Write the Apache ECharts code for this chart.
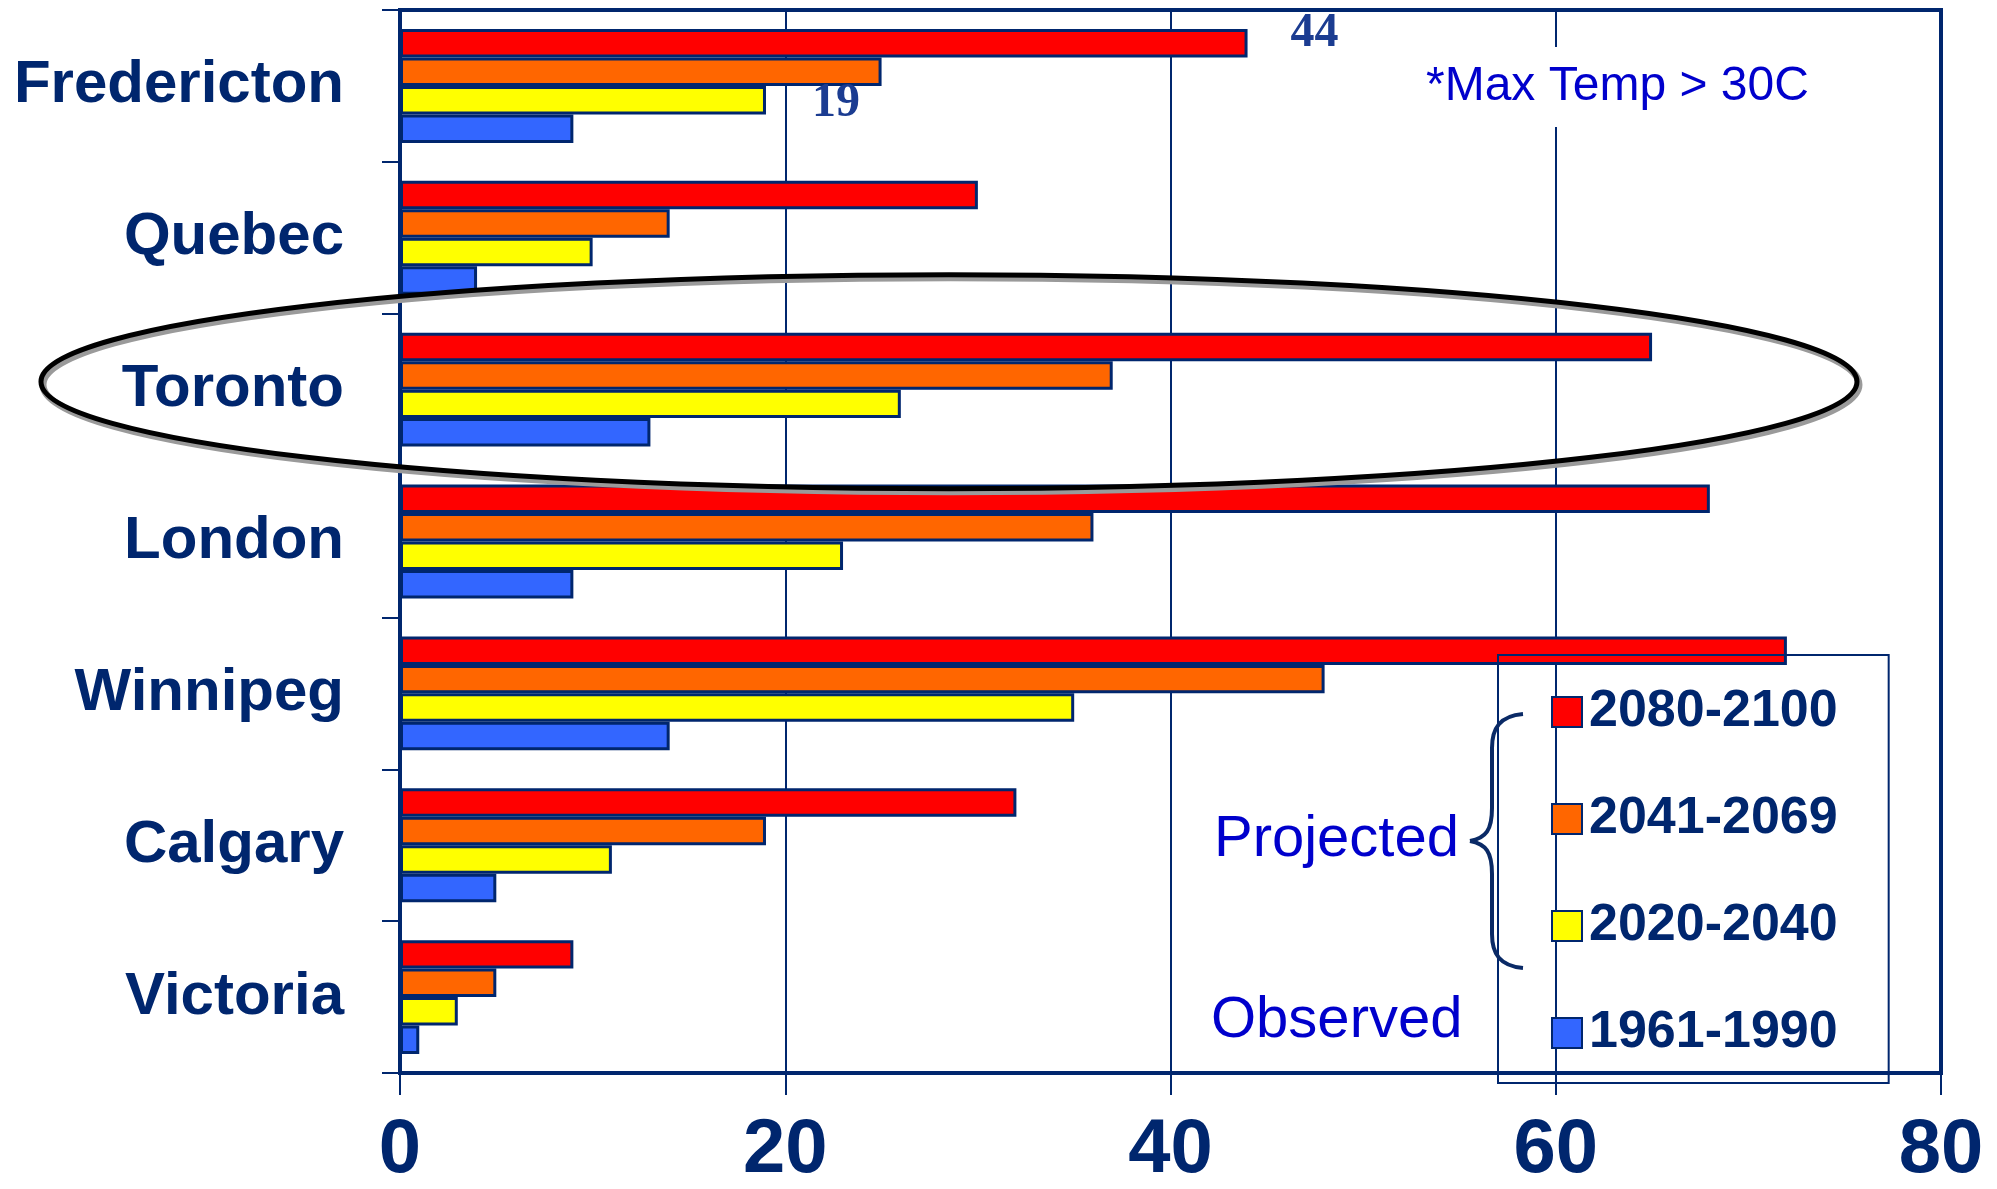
<!DOCTYPE html>
<html>
<head>
<meta charset="utf-8">
<script src="https://cdn.jsdelivr.net/npm/echarts@6/dist/echarts.min.js"></script>
<style>
html,body{margin:0;padding:0;background:#fff;}
#c{width:1997px;height:1189px;}
</style>
</head>
<body>
<div id="c"></div>
<script>
const cities = ['Fredericton','Quebec','Toronto','London','Winnipeg','Calgary','Victoria'];
const periods = ['2080-2100','2041-2069','2020-2040','1961-1990'];
const v2080 = [44, 30, 65, 68, 72, 32, 9];
const v2041 = [25, 14, 37, 36, 48, 19, 5];
const v2020 = [19, 10, 26, 23, 35, 11, 3];
const v1961 = [9, 4, 13, 9, 14, 5, 1];
const xTicks = [0, 20, 40, 60, 80];
const colors = ['#FF0000','#FF6600','#FFFF00','#3366FF'];

const NAVY = '#00266E';
const chart = echarts.init(document.getElementById('c'));

function mk(name, vals, color, labelIdx) {
  return {
    name: name, type: 'bar', data: vals.map((v,i)=>{
      const d = {value: v};
      if (labelIdx && labelIdx.idx === i) {
        d.label = {show: true, position: 'right', distance: labelIdx.dist, offset: labelIdx.off,
          fontFamily: 'Liberation Serif, serif', fontWeight: 'bold', fontSize: 48, color: '#1B3C91'};
      }
      return d;
    }),
    itemStyle: {color: color, borderColor: NAVY, borderWidth: 3},
    barGap: '0%', barCategoryGap: '25%',
    emphasis: {disabled: true}
  };
}

const series = [
  mk(periods[0], v2080, colors[0], {idx: 0, dist: 43, off: [0, -10]}),
  mk(periods[1], v2041, colors[1]),
  mk(periods[2], v2020, colors[2], {idx: 0, dist: 46, off: [0, 3]}),
  mk(periods[3], v1961, colors[3])
];

chart.setOption({
  animation: false,
  grid: {left: 400, right: 56, top: 10, bottom: 116, show: true, borderColor: NAVY, borderWidth: 4, containLabel: false},
  xAxis: {
    type: 'value', min: xTicks[0], max: xTicks[xTicks.length-1], interval: 20,
    axisLine: {show: true, lineStyle: {color: NAVY, width: 4}},
    axisTick: {show: true, length: 22, lineStyle: {color: NAVY, width: 2}},
    splitLine: {show: true, lineStyle: {color: NAVY, width: 2}},
    axisLabel: {color: NAVY, fontFamily: 'Liberation Sans, Arial, sans-serif', fontWeight: 'bold', fontSize: 76, margin: 40}
  },
  yAxis: {
    type: 'category', data: cities, inverse: true,
    axisLine: {show: true, lineStyle: {color: NAVY, width: 2}},
    axisTick: {show: true, length: 18, lineStyle: {color: NAVY, width: 2}},
    axisLabel: {color: NAVY, fontFamily: 'Liberation Sans, Arial, sans-serif', fontWeight: 'bold', fontSize: 60, margin: 56}
  },
  legend: {
    orient: 'vertical', left: 1498, top: 655,
    data: periods,
    itemWidth: 30, itemHeight: 30, itemGap: 51,
    padding: [29, 51, 22, 53],
    borderColor: NAVY, borderWidth: 2,
    icon: 'rect',
    itemStyle: {borderColor: NAVY, borderWidth: 2},
    textStyle: {color: NAVY, fontFamily: 'Liberation Sans, Arial, sans-serif', fontWeight: 'bold', fontSize: 52, lineHeight: 56, padding: [0,0,0,2]},
    selectedMode: false
  },
  series: series
});

// annotations
const ctr = chart.convertToPixel({xAxisIndex: 0, yAxisIndex: 0}, [28.5, 'Toronto']);
const braceSty = {fill: 'none', stroke: '#0A2A66', lineWidth: 4};
chart.setOption({
  graphic: [
    {type: 'text', x: 1422, y: 87, z: 5,
     style: {text: '*Max Temp > 30C', fill: '#0000CC', font: '48px "Liberation Sans", Arial, sans-serif', verticalAlign: 'middle', backgroundColor: '#fff', padding: [16, 4]}},
    {type: 'ellipse', shape: {cx: ctr[0] + 2, cy: ctr[1] - 5, rx: 908, ry: 107}, z: 20,
     style: {fill: 'none', stroke: '#9a9a9a', lineWidth: 7}},
    {type: 'ellipse', shape: {cx: ctr[0], cy: ctr[1] - 8, rx: 908, ry: 107}, z: 21,
     style: {fill: 'none', stroke: '#000', lineWidth: 5}},
    {type: 'text', x: 1459, y: 840, z: 5,
     style: {text: 'Projected', fill: '#0000CC', font: '58px "Liberation Sans", Arial, sans-serif', align: 'right', verticalAlign: 'middle'}},
    {type: 'text', x: 1211, y: 1021, z: 5,
     style: {text: 'Observed', fill: '#0000CC', font: '58px "Liberation Sans", Arial, sans-serif', align: 'left', verticalAlign: 'middle'}},
    {type: 'bezierCurve', z: 5, shape: {x1: 1523, y1: 714, x2: 1492, y2: 748, cpx1: 1500, cpy1: 716, cpx2: 1492, cpy2: 728}, style: braceSty},
    {type: 'line', z: 5, shape: {x1: 1492, y1: 748, x2: 1492, y2: 808}, style: braceSty},
    {type: 'bezierCurve', z: 5, shape: {x1: 1492, y1: 808, x2: 1470, y2: 841, cpx1: 1492, cpy1: 830, cpx2: 1486, cpy2: 838}, style: braceSty},
    {type: 'bezierCurve', z: 5, shape: {x1: 1470, y1: 841, x2: 1492, y2: 874, cpx1: 1486, cpy1: 844, cpx2: 1492, cpy2: 852}, style: braceSty},
    {type: 'line', z: 5, shape: {x1: 1492, y1: 874, x2: 1492, y2: 934}, style: braceSty},
    {type: 'bezierCurve', z: 5, shape: {x1: 1492, y1: 934, x2: 1523, y2: 968, cpx1: 1492, cpy1: 954, cpx2: 1500, cpy2: 966}, style: braceSty}
  ]
});
</script>
</body>
</html>
